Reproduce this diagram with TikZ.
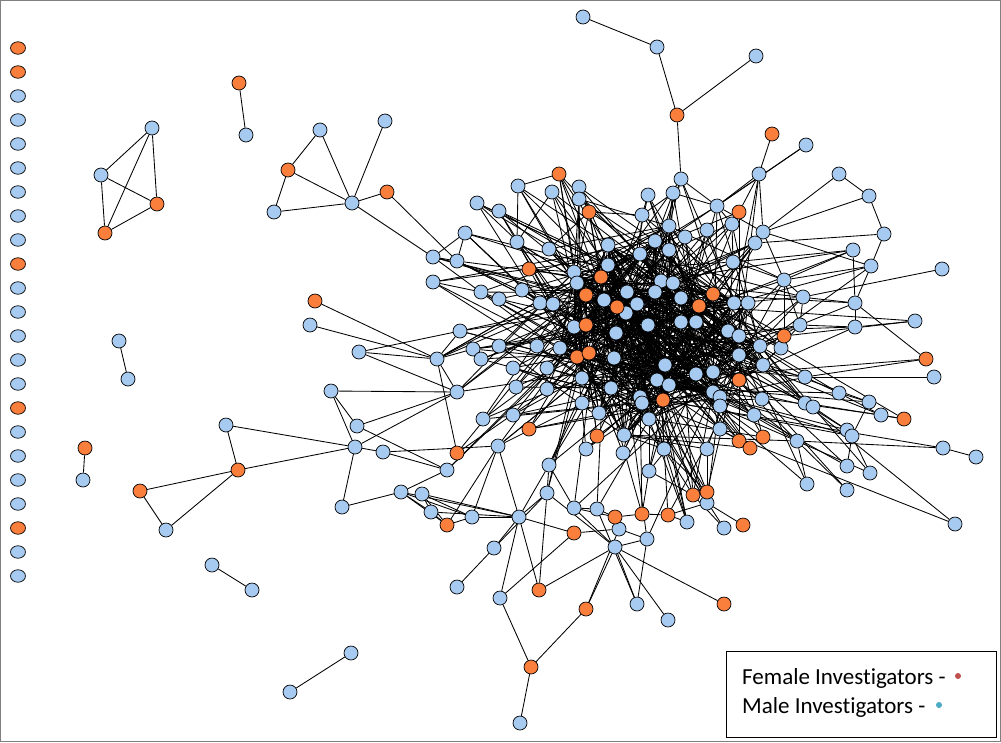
\documentclass[tikz,border=0pt]{standalone}
\usepackage{fontspec}
\newfontfamily\legfont[Ligatures=NoCommon]{Carlito}
\usetikzlibrary{backgrounds,shapes.geometric}
\definecolor{nblue}{RGB}{166,202,240}
\definecolor{norange}{RGB}{250,126,60}
\definecolor{legred}{RGB}{192,80,77}
\definecolor{legcyan}{RGB}{75,172,198}
\begin{document}
\begin{tikzpicture}[x=1pt,y=-1pt,
  bn/.style={circle,draw=black,line width=0.7pt,fill=nblue,minimum size=14pt,inner sep=0pt},
  on/.style={bn,fill=norange},
  ebn/.style={ellipse,draw=black,line width=0.7pt,fill=nblue,minimum width=15pt,minimum height=12.5pt,inner sep=0pt},
  eon/.style={ebn,fill=norange},
  lnk/.style={draw=black,line width=0.85pt},
  legtext/.style={anchor=base west,inner sep=0pt,font=\legfont\fontsize{23}{28}\selectfont}]
\useasboundingbox (0,0) rectangle (1001,742);
\draw[gray,line width=1.2pt] (0.6,0.6) rectangle (1000.4,741.4);

% isolated column
\foreach \i/\s in {1/eon,2/eon,3/ebn,4/ebn,5/ebn,6/ebn,7/ebn,8/ebn,9/ebn,10/eon,11/ebn,12/ebn,13/ebn,14/ebn,15/ebn,16/eon,17/ebn,18/ebn,19/ebn,20/ebn,21/eon,22/ebn,23/ebn}
  \node[\s] (L\i) at (18,{24+24*\i}) {};

% blue nodes
\foreach \n/\x/\y in {2/518/186,3/552/192,4/579/187,5/579/199,7/477/203,8/499/211,9/465/233,10/517/242,11/549/249,12/608/245,13/433/257,14/457/261,16/574/272,17/608/265,19/577/283,20/433/282,21/481/292,22/499/299,23/522/290,25/604/300,26/540/303,27/553/304,29/681/179,30/759/174,31/648/195,32/673/193,33/717/206,35/642/215,36/669/226,37/732/224,38/707/230,39/763/232,40/755/243,41/655/241,42/685/237,43/640/254,44/669/250,45/733/262,46/784/280,47/661/281,48/673/283,49/627/292,50/655/292,52/681/298,53/637/304,55/734/303,56/748/303,57/803/297,58/839/174,59/869/196,60/884/234,61/853/250,62/871/266,63/942/269,64/855/303,65/806/145,67/574/327,69/616/333,70/473/349,71/499/346,72/537/346,73/560/348,76/614/358,77/481/359,78/513/368,79/547/368,80/582/378,81/516/387,82/547/389,83/611/388,84/582/403,85/599/413,86/626/313,87/800/325,88/648/325,89/681/322,90/696/322,91/728/331,92/739/336,94/760/346,95/781/348,96/739/355,97/763/365,98/665/365,99/696/374,100/713/372,102/657/380,103/669/385,104/713/392,105/720/397,106/720/406,107/640/397,108/642/403,110/762/399,111/754/415,112/649/419,113/720/429,114/624/435,119/797/441,123/915/321,124/855/327,127/805/377,128/934/377,129/839/393,130/805/403,131/813/407,132/869/402,133/881/415,135/847/430,136/852/436,137/943/448,138/976/457,139/847/466,140/870/473,141/847/490,142/807/484,143/955/524,
201/152/128,202/101/175,206/246/135,207/119/341,208/128/379,210/83/480,211/212/565,212/252/590,213/351/653,214/290/692,215/583/17,216/657/47,217/756/56,219/320/130,221/274/212,222/352/203,223/385/121,227/166/530,228/226/425,230/310/325,231/359/352,232/437/359,233/331/391,234/457/392,235/357/426,236/355/447,237/383/452,238/342/507,239/460/331,240/401/492,241/422/494,242/431/512,244/447/470,246/472/517,247/498/446,248/519/517,249/549/465,250/547/493,251/574/508,253/494/548,254/457/587,256/483/419,257/513/415,259/500/598,261/637/604,262/668/620,265/520/723,266/615/547,267/647/539,268/619/529,272/687/522,273/724/528,277/707/503,278/597/509,279/649/471,280/586/449,281/623/453,283/707/449,284/664/449}
  \node[bn] (n\n) at (\x,\y) {};

% orange nodes
\foreach \n/\x/\y in {1/559/174,6/589/212,15/529/269,18/601/277,24/586/295,28/617/307,34/739/212,51/713/294,54/699/306,66/772/134,68/586/325,74/577/357,75/589/353,93/784/336,101/739/380,109/663/400,116/739/441,117/750/448,118/763/437,126/926/359,134/904/419,
203/157/204,204/105/233,205/239/83,209/85/448,218/677/115,220/288/170,224/387/192,225/140/491,226/238/470,229/315/301,243/447/525,245/457/453,252/574/533,255/539/590,258/529/429,260/586/609,263/724/604,264/531/667,269/615/517,270/642/514,271/668/515,274/743/525,275/693/495,276/707/492,282/597/436}
  \node[on] (n\n) at (\x,\y) {};

\pgfmathdeclarerandomlist{hubs}{{12}{16}{17}{18}{19}{24}{25}{28}{36}{41}{43}{44}{47}{48}{49}{50}{52}{53}{67}{68}{69}{73}{75}{76}{80}{83}{86}{88}{89}{90}{91}{98}{99}{100}{102}{103}{107}{108}{109}{104}{105}{94}{96}{97}{54}{51}{55}{56}{92}{112}{114}{85}}
\pgfmathsetseed{42}

\begin{pgfonlayer}{background}
\foreach \a/\b in {201/202,201/203,201/204,202/203,202/204,203/204,205/206,207/208,209/210,211/212,213/214,215/216,216/218,217/218,218/29,
219/220,219/222,220/221,220/222,221/222,223/222,222/224,222/13,224/14,
225/226,225/227,227/226,226/228,226/236,228/236,
229/232,230/232,231/232,231/239,231/234,232/234,232/245,232/239,232/70,233/234,233/235,233/236,235/234,235/244,236/234,236/237,236/238,237/244,237/247,238/240,
240/244,240/242,240/246,240/243,240/248,241/248,241/242,241/243,241/246,242/243,242/248,243/246,243/247,246/247,246/248,247/248,248/253,248/255,248/259,248/249,248/250,248/252,253/254,253/250,249/250,249/251,251/278,
264/265,264/259,264/260,259/252,260/266,260/268,261/266,261/267,261/278,262/266,263/266,255/266,255/250,266/267,266/250,266/251,268/252,268/267,269/270,270/271,269/251,269/278,271/272,273/275,274/277,277/276,277/271,283/276,279/270,279/275,
13/9,14/9,13/14,20/21,21/22,7/26,8/27,2/10,2/1,3/10,1/16,1/19,4/5,5/16,5/19,6/11,6/35,
29/36,29/33,30/39,30/33,30/34,31/35,32/36,32/33,32/35,33/39,33/37,34/37,37/45,39/40,39/46,45/46,46/57,46/93,46/87,
66/30,65/33,58/39,58/59,59/39,59/60,60/40,60/62,61/45,61/46,61/64,62/46,62/64,62/39,63/57,57/87,64/124,123/124,123/93,126/64,126/127,128/127,129/127,129/132,132/136,133/134,133/129,134/130,137/138,137/119,139/136,140/136,141/119,142/119,143/130,135/131,124/87,64/87}
  \draw[lnk] (n\a) -- (n\b);

\foreach \n/\k in {12/7,16/7,17/7,18/7,19/7,24/7,25/7,28/7,36/7,41/7,43/7,44/7,47/7,48/7,49/7,50/7,52/7,53/7,67/7,68/7,69/7,73/7,75/7,76/7,80/7,83/7,86/7,88/7,89/7,90/7,91/7,98/7,99/7,100/7,102/7,103/7,107/7,108/7,109/7,104/7,105/7,94/7,96/7,97/7,54/7,51/7,55/7,56/7,92/7,112/7,114/7,85/7,
1/4,2/4,3/4,4/4,5/4,6/4,7/4,8/4,9/4,10/4,11/4,13/4,14/4,15/4,20/4,21/4,22/4,23/4,26/4,27/4,29/4,31/4,32/4,33/4,34/4,35/4,37/4,38/4,39/4,40/4,42/4,45/4,46/4,57/4,70/4,71/4,72/4,74/4,77/4,78/4,79/4,81/4,82/4,84/4,87/4,93/4,95/4,101/4,106/4,110/4,111/4,113/4,116/4,117/4,118/4,119/4,127/4,130/4,131/4,239/4,234/4,232/4,256/4,257/4,258/4,247/4,249/4,279/4,280/4,281/4,282/4,283/4,284/4,275/4,276/4,277/4,272/4,
30/2,61/2,62/2,64/2,123/1,124/2,126/1,129/2,132/2,133/2,134/1,135/2,136/2,137/1,139/2,140/2,141/1,142/2,143/1,65/1,244/2,245/2,250/2,251/2,278/2,267/2,270/2,271/2,273/1}
  {\foreach \r in {1,...,\k} {\pgfmathrandomitem{\h}{hubs}\draw[lnk] (n\n) -- (n\h);}}
\end{pgfonlayer}

% legend
\node[draw=black,line width=0.8pt,fill=white,minimum width=270pt,minimum height=86pt,anchor=north west,inner sep=0pt] (leg) at (726,651) {};
\node[legtext] (lf) at (742,684) {Female Investigators -};
\node[legtext] (lm) at (742,713) {Male Investigators -};
\node[circle,fill=legred,minimum size=6pt,inner sep=0pt] (dr) at (958,676) {};
\node[circle,fill=legcyan,minimum size=6pt,inner sep=0pt] (dc) at (939,705) {};
\end{tikzpicture}
\end{document}
